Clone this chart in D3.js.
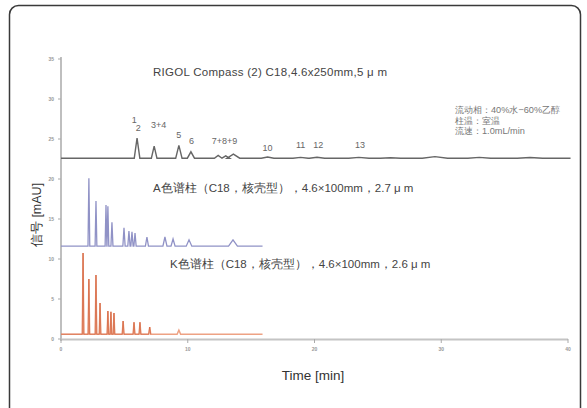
<head>
<meta charset="utf-8" />
<script src="https://d3js.org/d3.v7.min.js"></script>
</head>
<style>
  body { margin: 0; background: #fff; }
  text { font-family: "Liberation Sans", Arial, sans-serif; text-spacing-trim: space-all; }
</style>
<body>
</body>
<script>
// x ticks (min) and y ticks (mAU)
var xTicks = [0, 10, 20, 30, 40];
var yTicks = [0, 5, 10, 15, 20, 25, 30, 35];

// peaks: [time, apex signal, half width]
var rigolBase = 22.6;
var rigolPeaks = [
  [6.0, 25.1, 0.22], [7.35, 24.1, 0.22], [9.3, 24.2, 0.25], [10.25, 23.4, 0.28],
  [12.4, 22.95, 0.3], [13.0, 22.9, 0.3], [13.6, 23.1, 0.5], [16.3, 22.75, 0.5],
  [18.9, 22.7, 0.6], [20.2, 22.72, 0.6], [23.5, 22.7, 0.8], [26.0, 22.66, 0.8],
  [29.5, 22.8, 1.0], [33.0, 22.7, 0.9], [37.0, 22.68, 1.0]
];
var rigolEnd = 40.2;

var aBase = 11.6;
var aPeaks = [
  [2.2, 20.1, 0.07], [2.76, 17.25, 0.07], [3.55, 16.75, 0.07], [3.7, 16.6, 0.07],
  [4.02, 14.6, 0.08], [4.97, 13.9, 0.09], [5.36, 13.5, 0.09], [5.6, 13.4, 0.09],
  [5.84, 13.25, 0.09], [6.78, 12.75, 0.12], [8.2, 12.75, 0.16], [8.84, 12.5, 0.16],
  [10.1, 12.4, 0.22], [13.57, 12.4, 0.35]
];
var aEnd = 15.9;

var kBase = 0.6;
var kPeaks = [
  [1.74, 10.75, 0.06], [2.2, 7.5, 0.06], [2.76, 8.0, 0.06], [3.08, 4.5, 0.06],
  [3.7, 3.5, 0.06], [3.94, 3.4, 0.06], [4.18, 3.25, 0.06], [4.9, 2.25, 0.07],
  [5.76, 2.1, 0.07], [6.23, 2.1, 0.07], [7.0, 1.5, 0.08], [9.3, 1.1, 0.14]
];
var kEnd = 15.9;

var titleRigol = "RIGOL Compass (2) C18,4.6x250mm,5 μ m";
var titleA = "A色谱柱（C18，核壳型），4.6×100mm，2.7 μ m";
var titleK = "K色谱柱（C18，核壳型），4.6×100mm，2.6 μ m";
var conditions = ["流动相：40%水−60%乙醇", "柱温：室温", "流速：1.0mL/min"];
// [label, time, baseline y]
var peakLabels = [
  ["1", 5.78, 123], ["2", 6.1, 131], ["3+4", 7.7, 128], ["5", 9.3, 138],
  ["6", 10.3, 144], ["7+8+9", 12.9, 144], ["10", 16.3, 151], ["11", 18.9, 148],
  ["12", 20.3, 148], ["13", 23.6, 148]
];

var svg = d3.select("body").append("svg")
  .attr("width", 587).attr("height", 408);

svg.append("rect")
  .attr("x", 9.5).attr("y", 5.5)
  .attr("width", 571).attr("height", 430)
  .attr("rx", 9)
  .attr("fill", "#fff")
  .attr("stroke", "#3a3a3a").attr("stroke-width", 1.5);

var x = d3.scaleLinear().domain([0, 40]).range([61, 568]);
var y = d3.scaleLinear().domain([0, 35]).range([339, 59]);

// axes
var g = svg.append("g");
g.append("line").attr("x1", 61).attr("x2", 61).attr("y1", 57).attr("y2", 341)
  .attr("stroke", "#aaa").attr("stroke-width", 1.5);
g.append("line").attr("x1", 60).attr("x2", 568).attr("y1", 339.5).attr("y2", 339.5)
  .attr("stroke", "#c4c4c4").attr("stroke-width", 2);

g.selectAll(".yt").data(yTicks).enter().append("line")
  .attr("x1", 58).attr("x2", 61)
  .attr("y1", function (d) { return y(d); })
  .attr("y2", function (d) { return y(d); })
  .attr("stroke", "#aaa");
g.selectAll(".ytl").data(yTicks).enter().append("text")
  .attr("x", 54).attr("y", function (d) { return y(d) + 2; })
  .attr("text-anchor", "end")
  .attr("font-size", 5).attr("font-weight", "bold").attr("fill", "#999")
  .text(function (d) { return d; });

g.selectAll(".xt").data(xTicks).enter().append("line")
  .attr("x1", function (d) { return x(d); })
  .attr("x2", function (d) { return x(d); })
  .attr("y1", 339).attr("y2", 343)
  .attr("stroke", "#aaa");
g.selectAll(".xtl").data(xTicks).enter().append("text")
  .attr("x", function (d) { return x(d); }).attr("y", 351)
  .attr("text-anchor", "middle")
  .attr("font-size", 5).attr("font-weight", "bold").attr("fill", "#999")
  .text(function (d) { return d; });

// traces
function tracePoints(base, peaks, end) {
  var pts = [[0, base]];
  peaks.forEach(function (p) {
    pts.push([p[0] - p[2], base]);
    pts.push([p[0], p[1]]);
    pts.push([p[0] + p[2], base]);
  });
  pts.push([end, base]);
  return pts;
}
var line = d3.line()
  .x(function (d) { return x(d[0]); })
  .y(function (d) { return y(d[1]); });

svg.append("path").datum(tracePoints(rigolBase, rigolPeaks, rigolEnd))
  .attr("d", line).attr("fill", "none")
  .attr("stroke", "#666").attr("stroke-width", 1.4);
svg.append("path").datum(tracePoints(aBase, aPeaks, aEnd))
  .attr("d", line).attr("fill", "none")
  .attr("stroke", "#9092c6").attr("stroke-width", 1.3);
svg.append("path").datum(tracePoints(kBase, kPeaks, kEnd))
  .attr("d", line).attr("fill", "none")
  .attr("stroke", "#eea284").attr("stroke-width", 1.5);
svg.append("path").datum(tracePoints(kBase, kPeaks, kEnd).slice(0, 34))
  .attr("d", line).attr("fill", "none")
  .attr("stroke", "#cf5a36").attr("stroke-width", 0.6);

// labels
svg.selectAll(".pl").data(peakLabels).enter().append("text")
  .attr("x", function (d) { return x(d[1]); })
  .attr("y", function (d) { return d[2]; })
  .attr("text-anchor", "middle")
  .attr("font-size", 9).attr("fill", "#666")
  .text(function (d) { return d[0]; });

svg.append("text").attr("x", 153).attr("y", 76)
  .attr("textLength", 234)
  .attr("font-size", 11.5).attr("fill", "#444").text(titleRigol);
svg.append("text").attr("x", 153).attr("y", 192)
  .attr("font-family", "Noto Sans CJK SC")
  .attr("font-size", 11.5).attr("fill", "#444").text(titleA);
svg.append("text").attr("x", 170).attr("y", 268)
  .attr("font-family", "Noto Sans CJK SC")
  .attr("font-size", 11.5).attr("fill", "#444").text(titleK);

svg.selectAll(".cond").data(conditions).enter().append("text")
  .attr("x", 455).attr("y", function (d, i) { return 113 + i * 10.5; })
  .attr("font-family", "Noto Sans CJK SC")
  .attr("font-size", 9.2).attr("fill", "#777")
  .text(function (d) { return d; });

svg.append("text")
  .attr("transform", "translate(41,215) rotate(-90)")
  .attr("text-anchor", "middle")
  .attr("font-family", "Noto Sans CJK SC")
  .attr("font-size", 12.5).attr("fill", "#333")
  .text("信号 [mAU]");

svg.append("text").attr("x", 313).attr("y", 380)
  .attr("text-anchor", "middle")
  .attr("font-size", 13.5).attr("fill", "#333")
  .text("Time [min]");
</script>
